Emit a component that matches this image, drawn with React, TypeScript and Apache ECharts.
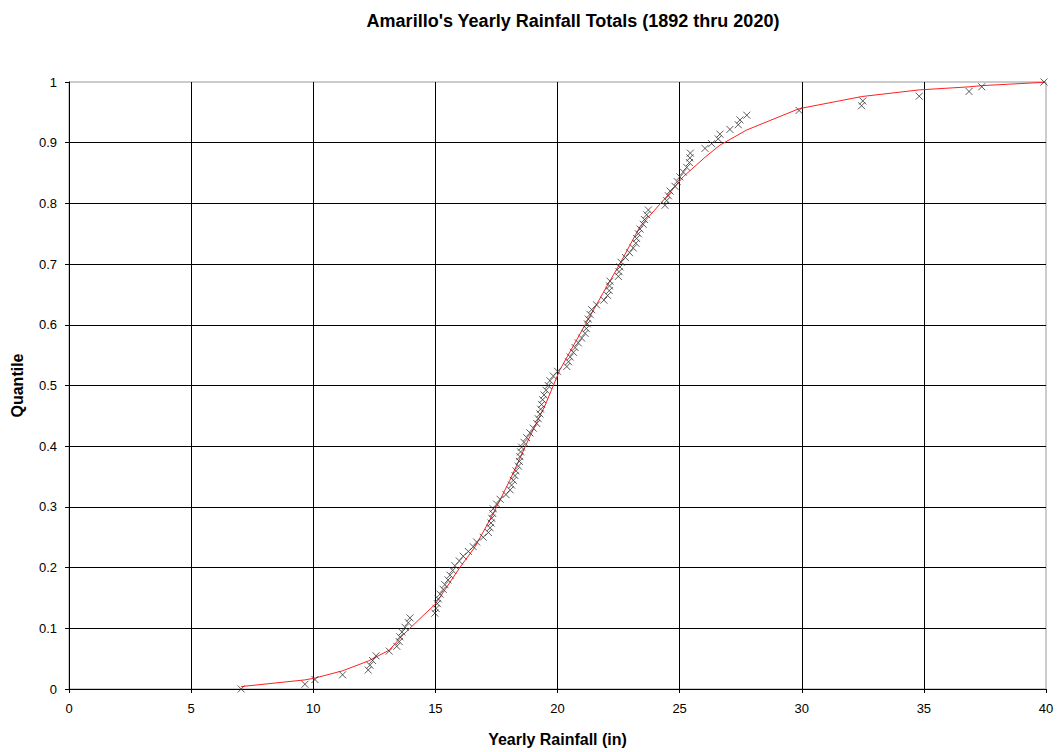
import React, { useEffect, useRef } from "react";
import * as echarts from "echarts";

const rainfall: number[] = [
  7.05, 9.66, 10.07, 11.2, 12.25, 12.32, 12.43, 12.57,
  13.11, 13.42, 13.52, 13.55, 13.63, 13.76, 13.89, 13.96,
  14.98, 15.03, 15.08, 15.12, 15.19, 15.32, 15.39, 15.52,
  15.6, 15.71, 15.8, 15.98, 16.14, 16.35, 16.55, 16.69,
  16.96, 17.17, 17.24, 17.28, 17.31, 17.35, 17.37, 17.51,
  17.65, 17.89, 18.06, 18.12, 18.19, 18.26, 18.3, 18.4,
  18.44, 18.46, 18.49, 18.53, 18.63, 18.74, 18.87, 19.01,
  19.15, 19.21, 19.28, 19.31, 19.35, 19.39, 19.45, 19.53,
  19.62, 19.69, 19.83, 20.0, 20.38, 20.45, 20.52, 20.65,
  20.72, 20.85, 20.99, 21.13, 21.18, 21.22, 21.26, 21.33,
  21.4, 21.6, 21.9, 22.05, 22.12, 22.13, 22.15, 22.49,
  22.52, 22.56, 22.6, 22.78, 22.95, 23.1, 23.21, 23.24,
  23.31, 23.38, 23.51, 23.56, 23.65, 23.72, 24.4, 24.47,
  24.54, 24.61, 24.81, 24.9, 25.01, 25.15, 25.29, 25.4,
  25.42, 25.44, 26.04, 26.31, 26.58, 26.65, 27.06, 27.4,
  27.47, 27.75, 29.89, 32.45, 32.5, 34.81, 36.85, 37.37,
  39.92,
];

const quantiles: number[] = [
  0, 0.0078, 0.0156, 0.0234, 0.0313, 0.0391, 0.0469, 0.0547,
  0.0625, 0.0703, 0.0781, 0.0859, 0.0938, 0.1016, 0.1094, 0.1172,
  0.125, 0.1328, 0.1406, 0.1484, 0.1563, 0.1641, 0.1719, 0.1797,
  0.1875, 0.1953, 0.2031, 0.2109, 0.2188, 0.2266, 0.2344, 0.2422,
  0.25, 0.2578, 0.2656, 0.2734, 0.2813, 0.2891, 0.2969, 0.3047,
  0.3125, 0.3203, 0.3281, 0.3359, 0.3438, 0.3516, 0.3594, 0.3672,
  0.375, 0.3828, 0.3906, 0.3984, 0.4063, 0.4141, 0.4219, 0.4297,
  0.4375, 0.4453, 0.4531, 0.4609, 0.4688, 0.4766, 0.4844, 0.4922,
  0.5, 0.5078, 0.5156, 0.5234, 0.5313, 0.5391, 0.5469, 0.5547,
  0.5625, 0.5703, 0.5781, 0.5859, 0.5938, 0.6016, 0.6094, 0.6172,
  0.625, 0.6328, 0.6406, 0.6484, 0.6563, 0.6641, 0.6719, 0.6797,
  0.6875, 0.6953, 0.7031, 0.7109, 0.7188, 0.7266, 0.7344, 0.7422,
  0.75, 0.7578, 0.7656, 0.7734, 0.7813, 0.7891, 0.7969, 0.8047,
  0.8125, 0.8203, 0.8281, 0.8359, 0.8438, 0.8516, 0.8594, 0.8672,
  0.875, 0.8828, 0.8906, 0.8984, 0.9063, 0.9141, 0.9219, 0.9297,
  0.9375, 0.9453, 0.9531, 0.9609, 0.9688, 0.9766, 0.9844, 0.9922,
  1,
];

const fitX: number[] = [
  7.05, 9.66, 10.07, 11.2, 12.25, 13.11, 13.7, 14.37, 15.0, 16.0, 16.62,
  17.37, 18.05, 18.87, 19.5, 20.1, 21.13, 22.0, 22.56, 23.38, 24.4, 25.15,
  26.04, 26.65, 27.75, 29.89, 32.45, 34.81, 36.85, 37.37, 39.92,
];
const fitY: number[] = [
  0.004, 0.015, 0.018, 0.03, 0.046, 0.064, 0.09, 0.116, 0.14, 0.2, 0.234,
  0.289, 0.344, 0.416, 0.468, 0.526, 0.6, 0.662, 0.701, 0.762, 0.808, 0.844,
  0.876, 0.896, 0.921, 0.956, 0.976, 0.987, 0.992, 0.994, 0.9995,
];

const FONT = "'Liberation Sans', Arial, sans-serif";

export default function App() {
  const ref = useRef<HTMLDivElement>(null);
  useEffect(() => {
    if (!ref.current) return;
    const chart = echarts.init(ref.current, undefined, { renderer: "svg" });
    chart.setOption({
      animation: false,
      backgroundColor: "#ffffff",
      title: {
        text: "Amarillo's Yearly Rainfall Totals (1892 thru 2020)",
        left: 568,
        textAlign: "center",
        top: 7,
        textStyle: { fontFamily: FONT, fontSize: 18, fontWeight: "bold", color: "#000" },
      },
      grid: {
        left: 69,
        right: 12,
        top: 82,
        bottom: 63,
        show: true,
        borderColor: "#999",
        borderWidth: 1,
        backgroundColor: "transparent",
      },
      xAxis: {
        type: "value",
        min: 0,
        max: 40,
        interval: 5,
        name: "Yearly Rainfall (in)",
        nameLocation: "middle",
        nameGap: 42,
        nameTextStyle: { fontFamily: FONT, fontSize: 16, fontWeight: "bold", color: "#000" },
        axisLine: { show: true, onZero: false, lineStyle: { color: "#000", width: 1 } },
        axisTick: { show: true, inside: false, length: 4, lineStyle: { color: "#000" } },
        axisLabel: { fontFamily: FONT, fontSize: 13, color: "#000", margin: 13 },
        splitLine: { show: true, showMaxLine: false, lineStyle: { color: "#000", width: 1 } },
      },
      yAxis: {
        type: "value",
        min: 0,
        max: 1,
        interval: 0.1,
        name: "Quantile",
        nameLocation: "middle",
        nameGap: 44,
        nameRotate: 90,
        nameTextStyle: { fontFamily: FONT, fontSize: 16, fontWeight: "bold", color: "#000" },
        axisLine: { show: true, onZero: false, lineStyle: { color: "#000", width: 1 } },
        axisTick: { show: true, inside: false, length: 4, lineStyle: { color: "#000" } },
        axisLabel: {
          fontFamily: FONT,
          fontSize: 13,
          color: "#000",
          margin: 12,
          formatter: (v: number) => String(Math.round(v * 10) / 10),
        },
        splitLine: { show: true, showMaxLine: false, lineStyle: { color: "#000", width: 1 } },
      },
      series: [
        {
          type: "line",
          data: fitX.map((x, i) => [x, fitY[i]]),
          showSymbol: false,
          symbol: "none",
          lineStyle: { color: "#ff2020", width: 1 },
          z: 2,
        },
        {
          type: "scatter",
          data: rainfall.map((x, i) => [x, quantiles[i]]),
          symbol: "path://M0,0L10,10M10,0L0,10",
          symbolSize: 7,
          itemStyle: { color: "transparent", borderColor: "#333", borderWidth: 1 },
          z: 3,
        },
      ],
    });
    return () => chart.dispose();
  }, []);
  return (
    <div
      ref={ref}
      style={{ position: "fixed", left: 0, top: 0, width: 1058, height: 752 }}
    />
  );
}
